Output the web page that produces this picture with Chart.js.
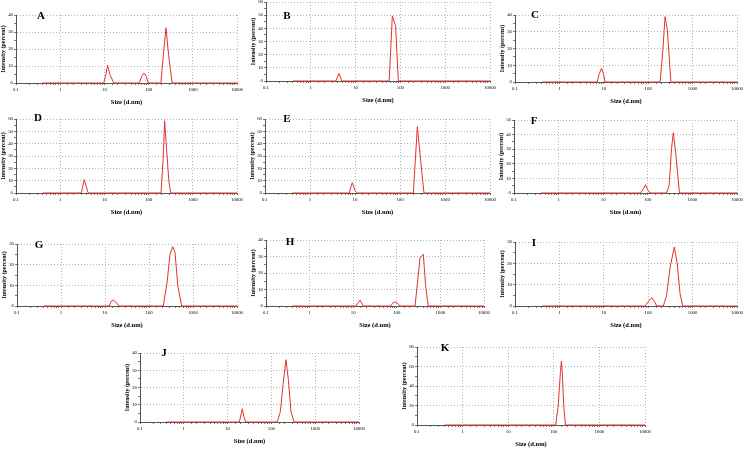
<!DOCTYPE html>
<html>
<head>
<meta charset="utf-8">
<script src="https://cdn.jsdelivr.net/npm/chart.js@4/dist/chart.umd.min.js"></script>
<style>
  html, body { margin: 0; padding: 0; background: #ffffff; }
  body { width: 743px; height: 450px; position: relative; overflow: hidden; }
  canvas { position: absolute; }
</style>
</head>
<body>
<script>
// Size distribution by intensity (size in d.nm, intensity in percent)
const sizeA = [0.4, 9.7, 10.8, 11.8, 13.3, 16.3, 61.6, 70, 79, 88, 98, 190, 215, 247, 285, 340, 10000];
const intA  = [0, 0, 5, 10.5, 5, 0, 0, 4, 5.8, 4, 0, 0, 16, 32.5, 16, 0, 0];

const sizeB = [0.4, 3.6, 4.27, 4.9, 56, 61, 66, 78, 90, 10000];
const intB  = [0, 0, 5.7, 0, 0, 25, 49.5, 42, 0, 0];

const sizeC = [0.4, 7.1, 7.9, 8.9, 9.8, 10.7, 186, 215, 240, 270, 324, 10000];
const intC  = [0, 0, 5, 8.2, 5, 0, 0, 20, 39, 31, 0, 0];

const sizeD = [0.4, 3.0, 3.5, 4.3, 191, 215, 231, 255, 290, 317, 10000];
const intD  = [0, 0, 10.8, 0, 0, 30, 58.6, 35, 8, 0, 0];

const sizeE = [0.4, 7.4, 8.7, 10, 11.2, 198, 243, 290, 341, 10000];
const intE  = [0, 0, 8.4, 2, 0, 0, 53.8, 25, 0, 0];

const sizeF = [0.4, 69, 80, 89, 100, 112, 263, 300, 340, 373, 420, 513, 10000];
const intF  = [0, 0, 3, 5.7, 2, 0, 0, 5, 30, 41.3, 28, 0, 0];

const sizeG = [0.4, 12.5, 14, 15.4, 17.5, 21, 211, 260, 300, 346, 390, 450, 553, 10000];
const intG  = [0, 0, 2.5, 2.9, 2, 0, 0, 12, 25, 28.7, 26, 10, 0, 0];

const sizeH = [0.4, 11.6, 14.3, 17, 72, 82, 91, 102, 118, 262, 300, 340, 405, 460, 525, 10000];
const intH  = [0, 0, 3.6, 0, 0, 2, 2.5, 1.8, 0, 0, 15, 29, 31.4, 12, 0, 0];

const sizeI = [0.4, 85, 100, 120, 140, 155, 219, 260, 310, 387, 450, 520, 598, 10000];
const intI  = [0, 0, 2, 3.9, 2, 0, 0, 5, 18, 27.6, 20, 6, 0, 0];

const sizeJ = [0.4, 18.5, 21.7, 23.5, 26, 136, 160, 185, 215, 245, 280, 328, 10000];
const intJ  = [0, 0, 7.7, 3, 0, 0, 6, 22, 36.1, 24, 6, 0, 0];

const sizeK = [0.4, 110, 125, 140, 147, 155, 165, 180, 10000];
const intK  = [0, 0, 20, 55, 65.5, 50, 20, 0, 0];

// Axis settings
const sizeTickLabels = ['0.1', '1', '10', '100', '1000', '10000'];
const yMaxes = { A: 40, B: 60, C: 40, D: 60, E: 60, F: 50, G: 30, H: 40, I: 30, J: 40, K: 80 };
const yStepsMajor = { A: 10, B: 10, C: 10, D: 10, E: 10, F: 10, G: 10, H: 10, I: 10, J: 10, K: 20 };

const seriesData = {
    A: [sizeA, intA], B: [sizeB, intB], C: [sizeC, intC], D: [sizeD, intD],
    E: [sizeE, intE], F: [sizeF, intF], G: [sizeG, intG], H: [sizeH, intH],
    I: [sizeI, intI], J: [sizeJ, intJ], K: [sizeK, intK]
};

// Plot-area placement of each panel on the page (pixels), and offset of the panel letter
const panelLayout = [
    { key: 'A', x0: 16,  x1: 237, yTop: 15,  yBot: 83,  dx: 25, dy: 1 },
    { key: 'B', x0: 266, x1: 490, yTop: 2,   yBot: 81,  dx: 21, dy: 14 },
    { key: 'C', x0: 515, x1: 737, yTop: 15,  yBot: 82,  dx: 20, dy: 0 },
    { key: 'D', x0: 16,  x1: 237, yTop: 119, yBot: 193, dx: 22, dy: -1 },
    { key: 'E', x0: 265, x1: 490, yTop: 119, yBot: 193, dx: 22, dy: 0 },
    { key: 'F', x0: 514, x1: 737, yTop: 120, yBot: 193, dx: 20, dy: 1 },
    { key: 'G', x0: 17,  x1: 237, yTop: 244, yBot: 306, dx: 22, dy: 1 },
    { key: 'H', x0: 266, x1: 484, yTop: 240, yBot: 306, dx: 24, dy: 2 },
    { key: 'I', x0: 515, x1: 737, yTop: 242, yBot: 306, dx: 19, dy: 1 },
    { key: 'J', x0: 140, x1: 359, yTop: 353, yBot: 422, dx: 24, dy: 0 },
    { key: 'K', x0: 417, x1: 645, yTop: 347, yBot: 425, dx: 28, dy: 1 }
];

const Y_AXIS_W = 16;
const X_AXIS_H = 23;
const PAD_TOP = 8;
const PAD_RIGHT = 8;
const SERIF = '"Liberation Serif", "DejaVu Serif", serif';

function isDecade(v) {
    const l = Math.log10(v);
    return Math.abs(l - Math.round(l)) < 1e-6;
}

// Draws the panel letter inside the plot area
const panelLetter = {
    id: 'panelLetter',
    afterDraw(chart, args, opts) {
        const ctx = chart.ctx;
        const area = chart.chartArea;
        ctx.save();
        ctx.font = 'bold 11px ' + SERIF;
        ctx.fillStyle = '#000000';
        ctx.textAlign = 'center';
        ctx.textBaseline = 'middle';
        ctx.fillText(opts.text, area.left + opts.dx, area.top + opts.dy);
        ctx.restore();
    }
};

function makePanel(p) {
    const canvas = document.createElement('canvas');
    const w = (p.x1 - p.x0) + Y_AXIS_W + PAD_RIGHT;
    const h = (p.yBot - p.yTop) + PAD_TOP + X_AXIS_H;
    canvas.width = w;
    canvas.height = h;
    canvas.style.left = (p.x0 - Y_AXIS_W) + 'px';
    canvas.style.top = (p.yTop - PAD_TOP) + 'px';
    canvas.style.width = w + 'px';
    canvas.style.height = h + 'px';
    document.body.appendChild(canvas);

    const [sizes, values] = seriesData[p.key];
    const yMax = yMaxes[p.key];
    const yStep = yStepsMajor[p.key];

    new Chart(canvas.getContext('2d'), {
        type: 'line',
        data: {
            datasets: [{
                data: sizes.map((s, i) => ({ x: s, y: values[i] })),
                borderColor: '#e3322f',
                borderWidth: 1,
                pointRadius: 0,
                tension: 0,
                fill: false,
                clip: 4
            }]
        },
        plugins: [panelLetter],
        options: {
            responsive: false,
            devicePixelRatio: 1,
            animation: false,
            layout: { padding: { top: PAD_TOP, right: PAD_RIGHT, left: 0, bottom: 0 } },
            plugins: {
                legend: { display: false },
                tooltip: { enabled: false },
                panelLetter: { text: p.key, dx: p.dx, dy: p.dy }
            },
            scales: {
                x: {
                    type: 'logarithmic',
                    min: 0.1,
                    max: 10000,
                    border: { display: true, color: '#555555', width: 1, dash: [1, 2] },
                    grid: {
                        drawOnChartArea: true,
                        color: (c) => (c.tick && isDecade(c.tick.value)) ? '#b4b4b4' : 'rgba(0,0,0,0)',
                        lineWidth: 1,
                        tickLength: 2,
                        tickColor: '#777777',
                        tickBorderDash: []
                    },
                    ticks: {
                        autoSkip: false,
                        maxRotation: 0,
                        padding: 2,
                        color: '#000000',
                        font: { family: SERIF, size: 4.8 },
                        callback: function(value) {
                            if (!isDecade(value)) return '';
                            const idx = Math.round(Math.log10(value)) + 1;
                            return sizeTickLabels[idx];
                        }
                    },
                    title: {
                        display: true,
                        text: 'Size (d.nm)',
                        color: '#000000',
                        padding: 0,
                        font: { family: SERIF, size: 6.5, weight: 'bold' }
                    },
                    afterFit: function(scale) {
                        scale.height = X_AXIS_H;
                        scale.paddingLeft = 0;
                        scale.paddingRight = 0;
                    }
                },
                y: {
                    min: 0,
                    max: yMax,
                    border: { display: true, color: '#555555', width: 1, dash: [1, 2] },
                    grid: {
                        color: (c) => (c.tick && c.tick.value % yStep === 0 && c.tick.value !== 0) ? '#b4b4b4' : 'rgba(0,0,0,0)',
                        lineWidth: 1,
                        tickLength: 2,
                        tickColor: '#777777',
                        tickBorderDash: []
                    },
                    ticks: {
                        stepSize: yStep / 2,
                        autoSkip: false,
                        padding: 1,
                        color: '#000000',
                        font: { family: SERIF, size: 4.8 },
                        callback: (value) => (value % yStep === 0) ? String(value) : ''
                    },
                    title: {
                        display: true,
                        text: 'Intensity (percent)',
                        color: '#000000',
                        padding: 0,
                        font: { family: SERIF, size: 6, weight: 'bold' }
                    },
                    afterFit: function(scale) {
                        scale.width = Y_AXIS_W;
                        scale.paddingTop = 0;
                        scale.paddingBottom = 0;
                    }
                }
            }
        }
    });
}

panelLayout.forEach(makePanel);
</script>
</body>
</html>
